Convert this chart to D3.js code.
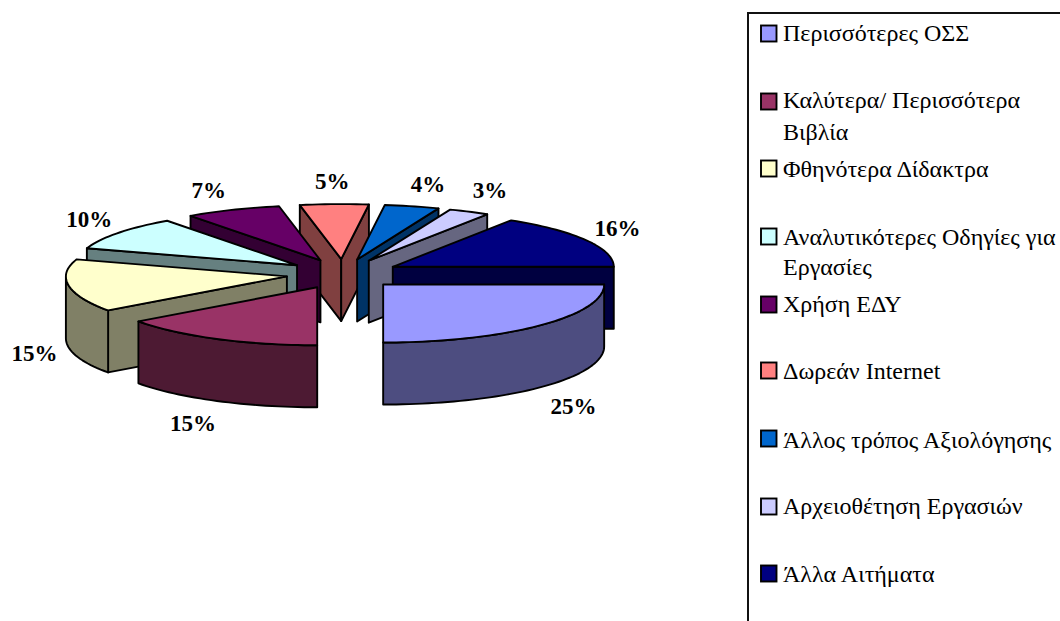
<!DOCTYPE html>
<html><head><meta charset="utf-8">
<script src="https://cdnjs.cloudflare.com/ajax/libs/d3/7.8.5/d3.min.js"></script>
<style>html,body{margin:0;padding:0;background:#fff;overflow:hidden}svg{display:block}</style>
</head><body><svg id="c" width="1060" height="621"></svg>
<script>
const categories=["Περισσότερες ΟΣΣ","Καλύτερα/ Περισσότερα\nΒιβλία","Φθηνότερα Δίδακτρα","Αναλυτικότερες Οδηγίες για\nΕργασίες","Χρήση ΕΔΥ","Δωρεάν Internet","Άλλος τρόπος Αξιολόγησης","Αρχειοθέτηση Εργασιών","Άλλα Αιτήματα"];
const values=[25,15,15,10,7,5,4,3,16];
const topColors=["#9999FF","#993366","#FFFFCC","#CCFFFF","#660066","#FF8080","#0066CC","#CCCCFF","#000080"];
const wallColors=["#4D4D80","#4D1A33","#808066","#668080","#330033","#804040","#003366","#666680","#000040"];

// layout
const cx=343,cy=274,rx=221,ryFront=58,ryBack=55,depth=62,explode=56.8;
const labelNudge=[[34,81],[-24,84],[-34,68],[-29,-14],[-24,-20],[-2,-23],[16,-22],[21,-22],[31,-12]];
const legendSwatchY=[25,93,160,228,296,362,430,498,565];
const legendLineY=[[41],[108,140],[177],[245,275],[312],[379],[448],[514],[582]];

const svg=d3.select("#c");
const pie=d3.pie().sort(null).value(d=>d).startAngle(Math.PI/2).endAngle(Math.PI/2+2*Math.PI);
const arcs=pie(values);
const X=d3.scaleLinear().domain([-1,1]).range([-rx,rx]);
const Y=d3.scaleLinear().domain([-1,0,1]).range([ryFront,0,-ryBack]); // cos(angle) up
const line=d3.line();
const rim=(a,o)=>[o[0]+X(Math.sin(a)),o[1]+Y(Math.cos(a))];
const samples=(a0,a1)=>{const n=Math.max(2,Math.ceil((a1-a0)/0.03));return d3.range(n+1).map(i=>a0+(a1-a0)*i/n);};
const apex=mid=>[cx+explode*Math.sin(mid),cy+explode*(ryFront/rx)*(-Math.cos(mid))];

const slices=arcs.map((d,i)=>{
  const mid=(d.startAngle+d.endAngle)/2;
  return {i,d,mid,o:apex(mid)};
}).sort((a,b)=>a.o[1]-b.o[1]);

const chart=svg.append("g").attr("stroke","#000").attr("stroke-width",1.9).attr("stroke-linejoin","round");
slices.forEach(s=>{
  const {d,o,i}=s, g=chart.append("g");
  const down=p=>[p[0],p[1]+depth];
  // radial walls, only those that face the viewer
  const wall=a=>{const p=rim(a,o);g.append("path").attr("fill",wallColors[i]).attr("d",line([o,p,down(p),down(o)])+"Z");};
  if(Math.sin(d.startAngle)<-1e-6) wall(d.startAngle);
  if(Math.sin(d.endAngle)>1e-6) wall(d.endAngle);
  // outer wall: only the front half of the rim faces the viewer
  const a0=Math.max(d.startAngle,Math.PI/2),a1=Math.min(d.endAngle,1.5*Math.PI);
  if(a1>a0){
    const pts=samples(a0,a1).map(a=>rim(a,o));
    g.append("path").attr("fill",wallColors[i]).attr("d",line(pts.concat(pts.slice().reverse().map(down)))+"Z");
  }
  // top
  g.append("path").attr("fill",topColors[i]).attr("d",line([o].concat(samples(d.startAngle,d.endAngle).map(a=>rim(a,o))))+"Z");
});

// percentage labels
const lab=svg.append("g").attr("font-family","'Liberation Serif',serif").attr("font-weight","bold").attr("font-size",23).attr("text-anchor","middle").attr("fill","#000");
arcs.forEach((d,i)=>{
  const mid=(d.startAngle+d.endAngle)/2;
  const p=rim(mid,apex(mid));
  lab.append("text").attr("x",p[0]+labelNudge[i][0]).attr("y",p[1]+labelNudge[i][1]).attr("dy","0.34em").text(values[i]+"%");
});

// legend
svg.append("rect").attr("x",748).attr("y",13).attr("width",340).attr("height",640).attr("fill","#fff").attr("stroke","#111").attr("stroke-width",2);
const leg=svg.append("g").attr("font-family","'Liberation Serif',serif").attr("font-size",24).attr("fill","#000");
categories.forEach((c,i)=>{
  leg.append("rect").attr("x",761).attr("y",legendSwatchY[i]+0.5).attr("width",15.5).attr("height",16).attr("fill",topColors[i]).attr("stroke","#000").attr("stroke-width",1.9);
  c.split("\n").forEach((t,j)=>leg.append("text").attr("x",783).attr("y",legendLineY[i][j]).text(t));
});
</script></body></html>
